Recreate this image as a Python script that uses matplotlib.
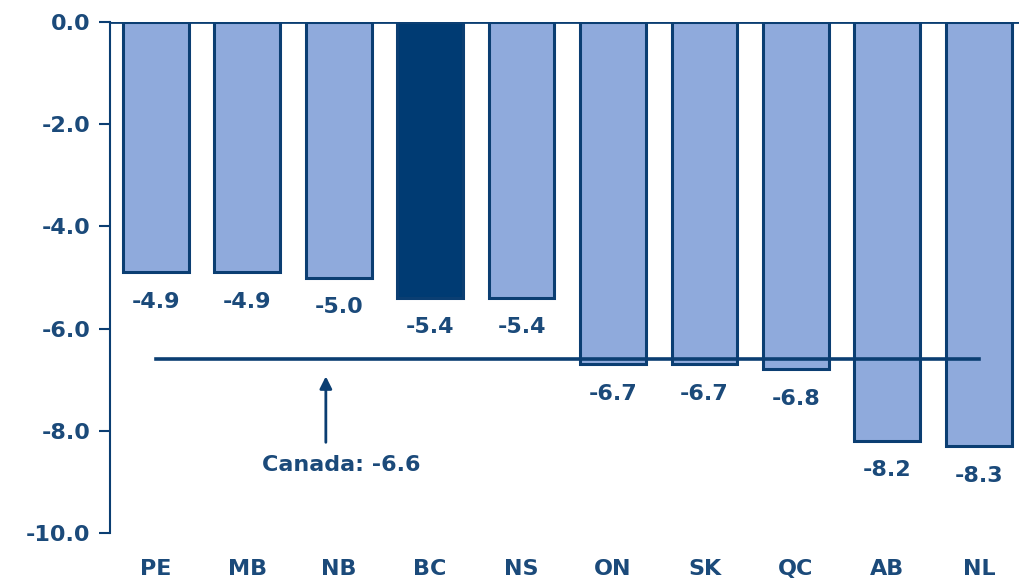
import matplotlib.pyplot as plt
import numpy as np

provinces = ['PE', 'MB', 'NB', 'BC', 'NS', 'ON', 'SK', 'QC', 'AB', 'NL']
values = [-4.9, -4.9, -5.0, -5.4, -5.4, -6.7, -6.7, -6.8, -8.2, -8.3]
canada = -6.6
highlight = 'BC'

text_col = '#1B4A7A'
edge_col = '#0B3E72'
light = '#8FAADC'
dark = '#003B73'

fig = plt.figure(figsize=(10.2, 5.84), dpi=100)
ax = fig.add_axes([110 / 1020, 51 / 584, 910 / 1020, 511 / 584])

x = np.arange(len(provinces))
colors = [dark if p == highlight else light for p in provinces]
ax.bar(x, values, width=0.72, color=colors, edgecolor=edge_col, linewidth=2.2, zorder=2)

for xi, v in zip(x, values):
    ax.annotate(f'{v:.1f}', (xi, v), xytext=(0, -14), textcoords='offset points',
                ha='center', va='top', fontsize=16, fontweight='bold', color=text_col)

# Canada average line
ax.plot([0, len(provinces) - 1], [canada, canada], color=edge_col, lw=2.6, zorder=3)
ax.annotate('', xy=(1.86, -6.88), xytext=(1.86, -8.28),
            arrowprops=dict(arrowstyle='-|>', color=edge_col, lw=2, mutation_scale=18))
ax.text(2.03, -8.67, f'Canada: {canada:.1f}', ha='center', va='center',
        fontsize=16, fontweight='bold', color=text_col)

ax.axhline(0, color=edge_col, lw=2, zorder=4)

ax.set_xlim(-0.5, 9.45)
ax.set_ylim(-10, 0)
ax.set_yticks(np.arange(-10, 0.1, 2))
ax.set_yticklabels([f'{t:.1f}' for t in np.arange(-10, 0.1, 2)])
ax.set_xticks(x)
ax.set_xticklabels(provinces)

for s in ['top', 'right', 'bottom']:
    ax.spines[s].set_visible(False)
ax.spines['left'].set_color(edge_col)
ax.spines['left'].set_linewidth(1.5)
ax.tick_params(axis='y', length=8, width=1.5, color=edge_col, labelsize=16,
               labelcolor=text_col, pad=6)
ax.tick_params(axis='x', length=0, labelsize=16, labelcolor=text_col, pad=19)
for lbl in ax.get_xticklabels() + ax.get_yticklabels():
    lbl.set_fontweight('bold')

fig.savefig('out.png', dpi=100)
